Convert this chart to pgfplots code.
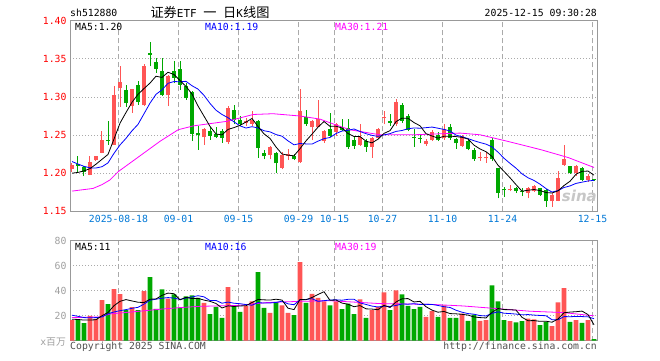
\documentclass[border=0pt]{standalone}
\usepackage{pgfplots}
\pgfplotsset{compat=1.18}
\usepackage{pgfplotstable}
\usepackage{fontspec}
\setmainfont{DejaVu Sans Mono}
\newfontfamily\cjk{Noto Sans CJK SC}
\newfontfamily\logofont{DejaVu Sans}
\definecolor{candred}{HTML}{FF5555}
\definecolor{candgreen}{HTML}{00A800}
\definecolor{maB}{HTML}{0000FF}
\definecolor{maM}{HTML}{FF00FF}
\definecolor{framec}{HTML}{999999}
\definecolor{gridc}{HTML}{AAAAAA}
\definecolor{dateblue}{HTML}{0078D7}
\definecolor{volgray}{HTML}{A0A0A0}
\definecolor{copyc}{HTML}{505050}

\pgfplotstableread{
k o h l c v
0 1.205 1.213 1.202 1.211 16.5
3 1.198 1.222 1.197 1.215 19.8
4 1.217 1.223 1.216 1.222 17.4
5 1.227 1.255 1.226 1.243 32.4
7 1.237 1.314 1.237 1.302 41.3
8 1.312 1.341 1.287 1.319 37.2
10 1.288 1.311 1.279 1.310 26.8
12 1.289 1.343 1.288 1.340 39.7
16 1.302 1.329 1.288 1.328 33.6
22 1.247 1.259 1.237 1.258 30.2
26 1.241 1.288 1.238 1.286 42.9
29 1.266 1.272 1.262 1.269 27.8
30 1.265 1.281 1.262 1.270 31.5
33 1.224 1.236 1.218 1.234 22.3
35 1.207 1.228 1.205 1.224 28.3
36 1.223 1.232 1.217 1.225 22.3
38 1.215 1.311 1.214 1.281 62.8
40 1.260 1.270 1.244 1.268 37.4
41 1.261 1.296 1.260 1.271 34.2
42 1.242 1.256 1.240 1.255 31.5
44 1.254 1.266 1.249 1.265 31.5
48 1.237 1.264 1.236 1.248 33.1
50 1.235 1.247 1.220 1.246 24.4
51 1.246 1.259 1.245 1.258 27.0
52 1.2725 1.281 1.264 1.274 38.7
54 1.264 1.297 1.262 1.294 40.3
59 1.238 1.245 1.236 1.242 19.1
60 1.243 1.257 1.242 1.254 23.6
62 1.246 1.265 1.244 1.258 28.3
65 1.236 1.250 1.235 1.249 21.7
68 1.2195 1.228 1.216 1.221 15.9
69 1.2195 1.228 1.214 1.221 16.4
73 1.1775 1.184 1.176 1.179 15.6
76 1.174 1.182 1.167 1.180 17.7
77 1.176 1.185 1.175 1.183 17.0
80 1.163 1.174 1.156 1.172 11.7
81 1.164 1.203 1.163 1.194 30.7
82 1.211 1.237 1.210 1.218 42.1
84 1.200 1.211 1.196 1.209 16.4
86 1.191 1.199 1.189 1.196 16.4
}\redk

\pgfplotstableread{
k o h l c v
1 1.212 1.223 1.202 1.210 16.4
2 1.208 1.209 1.196 1.201 14.1
6 1.244 1.269 1.237 1.242 29.2
9 1.309 1.316 1.287 1.292 24.4
11 1.316 1.321 1.290 1.294 24.4
13 1.358 1.372 1.340 1.355 50.9
14 1.346 1.351 1.332 1.337 25.4
15 1.334 1.351 1.301 1.302 41.1
17 1.334 1.347 1.318 1.325 37.1
18 1.336 1.347 1.309 1.316 26.2
19 1.315 1.318 1.296 1.298 35.5
20 1.307 1.308 1.242 1.252 36.3
21 1.2525 1.262 1.231 1.250 34.2
23 1.255 1.261 1.244 1.249 21.2
24 1.251 1.261 1.246 1.248 27.0
25 1.255 1.258 1.240 1.246 18.3
27 1.283 1.289 1.264 1.270 27.8
28 1.270 1.275 1.262 1.264 23.0
31 1.268 1.270 1.220 1.233 54.8
32 1.227 1.230 1.218 1.222 26.2
34 1.227 1.228 1.200 1.213 31.0
37 1.222 1.225 1.217 1.218 20.4
39 1.274 1.283 1.262 1.264 30.2
43 1.258 1.279 1.248 1.249 28.3
45 1.259 1.271 1.255 1.257 25.2
46 1.259 1.271 1.232 1.234 29.7
47 1.244 1.248 1.232 1.236 21.2
49 1.242 1.245 1.228 1.235 18.3
53 1.269 1.277 1.262 1.266 24.4
55 1.290 1.292 1.266 1.269 37.1
56 1.275 1.277 1.255 1.257 27.8
57 1.2475 1.258 1.235 1.246 25.2
58 1.2465 1.250 1.239 1.245 27.0
61 1.250 1.254 1.242 1.243 19.1
63 1.261 1.264 1.244 1.246 18.3
64 1.245 1.246 1.232 1.239 18.3
66 1.242 1.243 1.230 1.232 15.9
67 1.231 1.233 1.216 1.218 20.9
70 1.244 1.246 1.216 1.218 44.2
71 1.207 1.207 1.167 1.174 31.5
72 1.1795 1.182 1.169 1.178 16.4
74 1.180 1.182 1.174 1.176 14.6
75 1.1765 1.181 1.170 1.175 15.6
78 1.180 1.181 1.170 1.172 12.5
79 1.178 1.179 1.156 1.163 15.1
83 1.210 1.210 1.199 1.200 15.1
85 1.207 1.208 1.190 1.191 14.3
87 1.1925 1.193 1.190 1.191 1.3
}\greenk

\pgfplotstableread{
k m5 m10 vm5 vm10
0 1.200 1.2153 17.2 20.4
1 1.201 1.212 17.0 19.5
2 1.203 1.209 16.5 18.5
3 1.206 1.207 16.5 18.3
4 1.2118 1.2068 16.8 18.5
5 1.2182 1.2085 20.0 19.0
6 1.2246 1.2135 22.6 21.5
7 1.2448 1.226 28.0 23.0
8 1.2656 1.237 31.5 24.0
9 1.2796 1.2457 32.9 24.9
10 1.293 1.2556 31.8 25.9
11 1.3034 1.264 30.8 26.7
12 1.311 1.2779 30.5 29.3
13 1.3182 1.2919 33.2 32.4
14 1.3272 1.3034 33.4 33.2
15 1.3256 1.3093 36.3 34.0
16 1.3324 1.3179 38.1 34.5
17 1.3294 1.3202 37.6 34.1
18 1.3216 1.3199 32.7 33.0
19 1.3138 1.3205 34.7 34.1
20 1.3038 1.3147 33.7 35.0
21 1.2882 1.3103 33.9 36.0
22 1.2748 1.3021 32.5 35.1
23 1.2614 1.2915 31.5 32.1
24 1.2514 1.2826 29.8 32.2
25 1.2502 1.277 26.2 30.0
26 1.2574 1.2728 27.9 30.9
27 1.2598 1.2673 27.4 30.0
28 1.2628 1.2621 27.8 29.6
29 1.267 1.2592 28.0 28.9
30 1.2718 1.261 30.6 28.4
31 1.2612 1.2593 33.0 30.5
32 1.2516 1.2557 32.7 30.1
33 1.2456 1.2542 32.5 30.2
34 1.2344 1.2507 33.2 30.6
35 1.2252 1.2485 32.5 31.6
36 1.2236 1.2424 26.0 29.5
37 1.2228 1.2372 24.9 28.8
38 1.2322 1.2389 33.0 32.7
39 1.2424 1.2384 32.8 33.0
40 1.2512 1.2382 34.6 33.6
41 1.2604 1.242 37.0 31.5
42 1.2678 1.2453 39.2 32.0
43 1.2614 1.2468 32.3 32.6
44 1.2616 1.252 32.6 32.7
45 1.2594 1.2553 30.1 32.4
46 1.252 1.2562 29.2 33.1
47 1.2482 1.258 27.2 33.2
48 1.248 1.2547 28.1 30.2
49 1.242 1.2518 25.5 29.0
50 1.2398 1.2496 25.3 27.7
51 1.2446 1.2483 24.8 27.0
52 1.2522 1.2502 28.3 27.7
53 1.2558 1.2519 26.6 27.4
54 1.2676 1.2548 31.0 28.2
55 1.2722 1.256 33.5 29.4
56 1.272 1.2583 33.7 29.2
57 1.2664 1.2593 31.0 29.6
58 1.2622 1.259 31.5 29.0
59 1.2518 1.2597 27.2 29.1
60 1.2488 1.2605 24.5 29.0
61 1.246 1.259 22.8 28.2
62 1.2484 1.2574 23.4 27.2
63 1.2486 1.2554 21.7 26.6
64 1.248 1.2499 21.5 24.4
65 1.247 1.2479 21.1 22.8
66 1.2448 1.2454 20.5 21.7
67 1.2368 1.2426 19.0 21.2
68 1.2318 1.2402 18.5 20.1
69 1.2282 1.2381 18.2 19.8
70 1.222 1.2345 22.7 21.9
71 1.2104 1.2276 25.8 23.1
72 1.2024 1.2196 24.9 22.0
73 1.194 1.2129 24.8 21.7
74 1.185 1.2066 24.5 21.3
75 1.1764 1.1992 18.7 20.7
76 1.1776 1.194 16.0 20.9
77 1.1786 1.1905 16.1 20.5
78 1.1772 1.1856 15.5 20.2
79 1.1746 1.1798 15.6 20.0
80 1.174 1.1752 14.8 16.8
81 1.1768 1.1772 17.4 16.7
82 1.1838 1.1812 22.4 19.3
83 1.1894 1.1833 22.9 19.2
84 1.1986 1.1866 23.2 19.4
85 1.2024 1.1882 23.7 19.3
86 1.2028 1.1898 20.9 19.1
87 1.1974 1.1906 12.7 17.6
}\matab

\pgfplotstableread{
k m
0 1.1765
3.5 1.180
5 1.185
6.3 1.191
7.7 1.202
11.9 1.226
14.7 1.242
17.7 1.257
20.2 1.262
25.8 1.268
30.2 1.277
33.5 1.278
38 1.275
41.3 1.271
44.1 1.263
46.3 1.257
51.3 1.2504
56.9 1.2504
64.7 1.2526
68 1.2504
72.7 1.2416
78.2 1.2307
82.7 1.2205
87 1.2075
}\mathirty

\pgfplotstableread{
k m
0 18.5
4.5 19.0
6.5 21.5
11.3 23.6
14.7 25.2
18 26.5
21.3 27.5
28 28.3
32.4 30.5
38 31.5
43 32.0
51.3 29.7
59.7 29.1
65.2 27.8
70.8 25.7
76.3 23.6
81.9 22.5
87 19.9
}\vmathirty

\newcommand\mf{\fontsize{9.8}{11}\selectfont}

\pgfplotsset{kbase/.style={
  scale only axis, width=527pt, xmin=-0.333, xmax=87.5,
  anchor=north west,
  axis line style={draw=framec, line width=0.9pt},
  major tick length=0pt,
  xtick={7.75,17.75,27.75,37.75,43.75,51.75,61.75,71.75,86.75},
  xmajorgrids, ymajorgrids,
  x grid style={draw=gridc, line width=0.8pt, dash pattern=on 5pt off 3pt},
  y grid style={draw=gridc, line width=0.8pt, dash pattern=on 1pt off 2pt},
  tick label style={font=\mf},
  extra y tick style={grid=none},
}}

\begin{document}
\begin{tikzpicture}
\fill[white] (0,0) rectangle (660pt,-360pt);
\path[use as bounding box] (0,0) rectangle (660pt,-360pt);

\begin{axis}[kbase, at={(70pt,-20.7pt)}, height=190.6pt,
  ymin=1.15, ymax=1.40,
  ytick={1.20,1.25,1.30,1.35}, yticklabels={1.20,1.25,1.30,1.35},
  extra y ticks={1.15,1.40}, extra y tick labels={1.15,1.40},
  y tick label style={text=red},
  xticklabels={2025-08-18,09-01,09-15,09-29,10-15,10-27,11-10,11-24,12-15},
  x tick label style={text=dateblue},
]
% wicks
\addplot[forget plot, draw=none, mark=none, error bars/.cd, y dir=plus, y explicit, error mark=none,
  error bar style={draw=candred, line width=1pt, solid}]
  table[x=k, y=l, y error plus expr=\thisrow{h}-\thisrow{l}] {\redk};
\addplot[forget plot, draw=none, mark=none, error bars/.cd, y dir=plus, y explicit, error mark=none,
  error bar style={draw=candgreen, line width=1pt, solid}]
  table[x=k, y=l, y error plus expr=\thisrow{h}-\thisrow{l}] {\greenk};
% bodies
\addplot[forget plot, draw=none, mark=none, error bars/.cd, y dir=plus, y explicit, error mark=none,
  error bar style={draw=candred, line width=4.6pt, solid}]
  table[x=k, y=o, y error plus expr=\thisrow{c}-\thisrow{o}] {\redk};
\addplot[forget plot, draw=none, mark=none, error bars/.cd, y dir=plus, y explicit, error mark=none,
  error bar style={draw=candgreen, line width=4.6pt, solid}]
  table[x=k, y=c, y error plus expr=\thisrow{o}-\thisrow{c}] {\greenk};
% moving averages
\addplot[maM, line width=0.8pt, mark=none] table[x=k, y=m] {\mathirty};
\addplot[maB, line width=0.8pt, mark=none] table[x=k, y=m10] {\matab};
\addplot[black, line width=0.8pt, mark=none] table[x=k, y=m5] {\matab};
\end{axis}

\begin{axis}[kbase, at={(70pt,-240.7pt)}, height=100pt,
  ymin=0, ymax=80,
  ytick={20,40,60}, yticklabels={20,40,60},
  extra y ticks={80}, extra y tick labels={80},
  y tick label style={text=volgray},
  xticklabels={},
]
\addplot[ybar, bar width=4.8pt, bar shift=0pt, fill=candred, draw=none] table[x=k, y=v] {\redk};
\addplot[ybar, bar width=4.8pt, bar shift=0pt, fill=candgreen, draw=none] table[x=k, y=v] {\greenk};
\addplot[maM, line width=0.8pt, mark=none] table[x=k, y=m] {\vmathirty};
\addplot[maB, line width=0.8pt, mark=none] table[x=k, y=vm10] {\matab};
\addplot[black, line width=0.8pt, mark=none] table[x=k, y=vm5] {\matab};
\end{axis}

% texts
\node[anchor=base west, inner sep=0pt, font=\mf] at (70pt,-16.7pt) {sh512880};
\node[anchor=base, inner sep=0pt] at (210pt,-17.5pt)
  {{\fontsize{13.2}{14}\selectfont\cjk 证券}{\fontsize{11}{13}\selectfont ETF }{\fontsize{13.2}{14}\selectfont\cjk 一}{\fontsize{11}{13}\selectfont\ }{\fontsize{13.2}{14}\selectfont\cjk 日}{\fontsize{11}{13}\selectfont K}{\fontsize{13.2}{14}\selectfont\cjk 线图}};
\node[anchor=base east, inner sep=0pt, font=\mf] at (597pt,-16.7pt) {2025-12-15 09:30:28};

\node[anchor=base west, inner sep=0pt, font=\mf, text=black] at (75pt,-30pt) {MA5:1.20};
\node[anchor=base west, inner sep=0pt, font=\mf, text=maB] at (205pt,-30pt) {MA10:1.19};
\node[anchor=base west, inner sep=0pt, font=\mf, text=maM] at (335pt,-30pt) {MA30:1.21};

\node[anchor=base west, inner sep=0pt, font=\mf, text=black] at (75pt,-250pt) {MA5:11};
\node[anchor=base west, inner sep=0pt, font=\mf, text=maB] at (205pt,-250pt) {MA10:16};
\node[anchor=base west, inner sep=0pt, font=\mf, text=maM] at (335pt,-250pt) {MA30:19};

\node[anchor=base east, inner sep=0pt, text=volgray] at (66pt,-345pt) {\mf x{\cjk 百万}};
\node[anchor=base west, inner sep=0pt, font=\mf, text=copyc] at (70pt,-349pt) {Copyright 2025 SINA.COM};
\node[anchor=base east, inner sep=0pt, font=\mf, text=copyc] at (597pt,-349pt) {http://finance.sina.com.cn};

\node[anchor=base east, inner sep=0pt, text=black!22, font=\logofont\bfseries\itshape\fontsize{15}{16}\selectfont] at (597pt,-201pt) {sina};
\end{tikzpicture}
\end{document}
